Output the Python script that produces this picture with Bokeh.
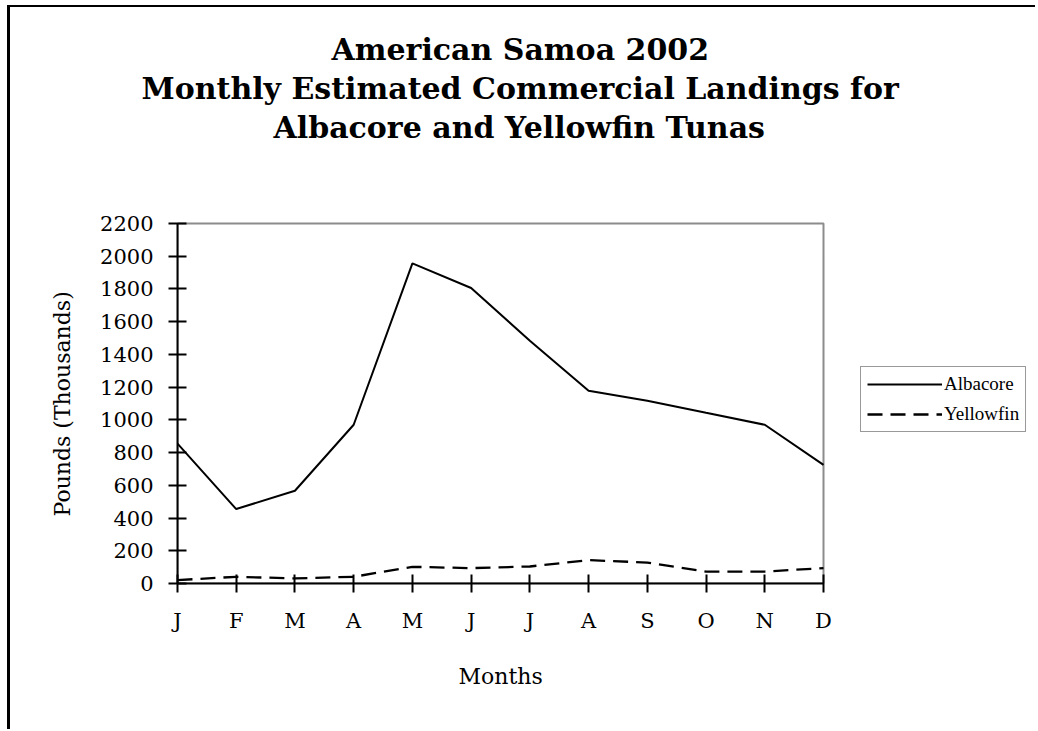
from bokeh.plotting import figure
from bokeh.models import (Range1d, FixedTicker, Legend, LegendItem, Title,
                          BoxAnnotation)
from bokeh.embed import file_html
from bokeh.resources import INLINE

months = ["J", "F", "M", "A", "M", "J", "J", "A", "S", "O", "N", "D"]
albacore = [855, 455, 567, 970, 1956, 1806, 1483, 1178, 1117, 1043, 970, 725]
yellowfin = [21, 41, 31, 41, 102, 94, 104, 143, 128, 73, 73, 94]
y_ticks = list(range(0, 2201, 200))
y_max = 2200
title_lines = ["American Samoa 2002",
               "Monthly Estimated Commercial Landings for",
               "Albacore and Yellowfin Tunas"]
x_title = "Months"
y_title = "Pounds (Thousands)"

x = list(range(len(months)))
x_last = len(months) - 1
SERIF = "DejaVu Serif"

# layout geometry (pixels)
W, H = 1028, 724
LEFT, BOTTOM, TOP = 167, 148, 212
PLOT_W, PLOT_H = 646, 360          # size of the data area (J..D, 0..2200)
frame_w, frame_h = W - LEFT, H - BOTTOM - TOP

p = figure(width=W, height=H, output_backend="svg", toolbar_location=None,
           title=None,
           x_range=Range1d(0, x_last * frame_w / PLOT_W),
           y_range=Range1d(0, y_max * frame_h / PLOT_H),
           min_border_left=LEFT, min_border_right=0, min_border_top=TOP,
           min_border_bottom=BOTTOM)
p.styles = {"margin-left": "7px", "margin-top": "5px",
            "border-left": "3px solid black", "border-top": "2px solid black"}

p.xgrid.visible = False
p.ygrid.visible = False
p.outline_line_color = None
p.background_fill_color = "white"
p.border_fill_color = "white"

# plot-area border (gray top/right, axes cover left/bottom)
p.add_layout(BoxAnnotation(left=0, right=x_last, bottom=0, top=y_max,
                           fill_alpha=0, line_color="#8c8c8c", line_alpha=1,
                           line_width=2, level="underlay"))

r1 = p.line(x, albacore, line_color="black", line_width=2)
r2 = p.line(x, yellowfin, line_color="black", line_width=2.3, line_dash="15 8")

for ax in (p.xaxis[0], p.yaxis[0]):
    ax.axis_line_width = 2
    ax.axis_line_color = "black"
    ax.major_tick_line_width = 2
    ax.major_tick_line_color = "black"
    ax.major_tick_in = 9
    ax.major_tick_out = 9
    ax.minor_tick_line_color = None
    ax.major_label_text_font = SERIF
    ax.major_label_text_font_size = "21px"
    ax.major_label_text_color = "black"

p.xaxis.bounds = (0, x_last)
p.xaxis.ticker = FixedTicker(ticks=x)
p.xaxis.major_label_overrides = {i: m for i, m in enumerate(months)}
p.xaxis.major_label_standoff = 16

p.yaxis.bounds = (0, y_max)
p.yaxis.ticker = FixedTicker(ticks=y_ticks)
p.yaxis.major_label_standoff = 15

# axis titles (centered on the data area, not on the whole frame)
p.add_layout(Title(text=y_title, align="left", offset=67, standoff=46,
                   text_font=SERIF, text_font_size="22px", text_font_style="normal",
                   text_color="black"), "left")
p.add_layout(Title(text=x_title, align="left", offset=281, standoff=56,
                   vertical_align="top",
                   text_font=SERIF, text_font_size="22px", text_font_style="normal",
                   text_color="black"), "below")

# chart title: spacer nearest the plot, then lines 3, 2, 1 stacked upward
p.add_layout(Title(text=" ", text_font_size="1px", standoff=71), "above")
title_offsets = [154, -36, 96]
for txt, off in reversed(list(zip(title_lines, title_offsets))):
    p.add_layout(Title(text=txt, align="left", offset=off, standoff=2,
                       text_font=SERIF, text_font_size="30px", text_font_style="bold",
                       text_color="black"), "above")

legend = Legend(items=[LegendItem(label="Albacore", renderers=[r1]),
                       LegendItem(label="Yellowfin", renderers=[r2])],
                location=(683, 151))
legend.label_text_font = "Liberation Serif"
legend.label_text_font_size = "19px"
legend.label_text_color = "black"
legend.glyph_width = 75
legend.glyph_height = 20
legend.label_height = 20
legend.label_standoff = 2
legend.padding = 6
legend.spacing = 8
legend.margin = 0
legend.border_line_color = "#333333"
legend.border_line_width = 1
legend.background_fill_color = "white"
p.add_layout(legend, "center")

open("out.html", "w").write(file_html(p, INLINE))
